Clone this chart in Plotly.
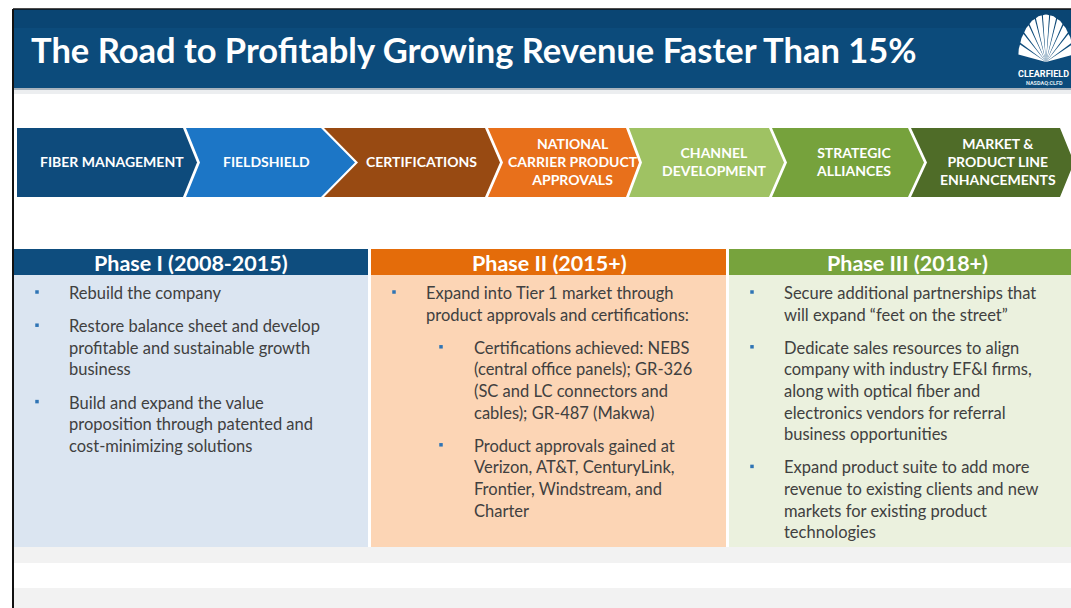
import math
import plotly.graph_objects as go

# ---------------- content (data) ----------------
TITLE = "The Road to Profitably Growing Revenue Faster Than 15%"

STEPS = [
    "FIBER MANAGEMENT",
    "FIELDSHIELD",
    "CERTIFICATIONS",
    "NATIONAL<br>CARRIER PRODUCT<br>APPROVALS",
    "CHANNEL<br>DEVELOPMENT",
    "STRATEGIC<br>ALLIANCES",
    "MARKET &amp;<br>PRODUCT LINE<br>ENHANCEMENTS",
]
STEP_COLORS = ["#0e4b7c", "#1c76c6", "#984a12", "#e8701b", "#9fc263", "#76a23c", "#4f6c28"]

PHASES = ["Phase I (2008-2015)", "Phase II (2015+)", "Phase III (2018+)"]
PHASE_HEAD_COLORS = ["#0e4d7e", "#e46c0a", "#77a33d"]
PHASE_BODY_COLORS = ["#dbe5f1", "#fcd5b5", "#ebf1de"]

# each bullet: (level, [wrapped lines])
PHASE1 = [
    (1, ["Rebuild the company"]),
    (1, ["Restore balance sheet and develop",
         "profitable and sustainable growth",
         "business"]),
    (1, ["Build and expand the value",
         "proposition through patented and",
         "cost-minimizing solutions"]),
]
PHASE2 = [
    (1, ["Expand into Tier 1 market through",
         "product approvals and certifications:"]),
    (2, ["Certifications achieved: NEBS",
         "(central office panels); GR-326",
         "(SC and LC connectors and",
         "cables); GR-487 (Makwa)"]),
    (2, ["Product approvals gained at",
         "Verizon, AT&amp;T, CenturyLink,",
         "Frontier, Windstream, and",
         "Charter"]),
]
PHASE3 = [
    (1, ["Secure additional partnerships that",
         "will expand \u201cfeet on the street\u201d"]),
    (1, ["Dedicate sales resources to align",
         "company with industry EF&amp;I firms,",
         "along with optical fiber and",
         "electronics vendors for referral",
         "business opportunities"]),
    (1, ["Expand product suite to add more",
         "revenue to existing clients and new",
         "markets for existing product",
         "technologies"]),
]
PHASE_BULLETS = [PHASE1, PHASE2, PHASE3]

LOGO_NAME = "CLEARFIELD"
LOGO_TICKER = "NASDAQ:CLFD"

# ---------------- layout constants ----------------
W, H = 1071, 608
FONT = "Lato"
TEXT_COLOR = "#404040"
BULLET_COLOR = "#2f74b5"

shapes = []
annotations = []


def rect(x0, y0, x1, y1, color):
    shapes.append(dict(type="rect", xref="x", yref="y", x0=x0, y0=y0, x1=x1, y1=y1,
                       fillcolor=color, line=dict(width=0), layer="below"))


# header bar
rect(13, 9, W, 88, "#0c4b7b")
rect(13, 9, W, 28, "#0a4573")
rect(13, 88, W, 90, "#a9b3bd")
rect(13, 90, W, 94, "#eceef0")
annotations.append(dict(x=29, y=49, xref="x", yref="y", text="<b>" + TITLE + "</b>",
                        showarrow=False, xanchor="left", yanchor="middle",
                        font=dict(family=FONT, size=34.5, color="white")))

# logo (shell fan)
cx, cy = 1046, 62
rx, ry = 28, 47
n = 11
span0, span1 = 8, 172
step = (span1 - span0) / n
for i in range(n):
    a0 = math.radians(span0 + i * step + 1.2)
    a1 = math.radians(span0 + (i + 1) * step - 1.2)
    am = (a0 + a1) / 2
    p0 = (cx + rx * math.cos(a0), cy - ry * math.sin(a0))
    p1 = (cx + rx * 1.03 * math.cos(am), cy - ry * 1.03 * math.sin(am))
    p2 = (cx + rx * math.cos(a1), cy - ry * math.sin(a1))
    path = f"M {cx},{cy} L {p0[0]:.1f},{p0[1]:.1f} Q {p1[0]:.1f},{p1[1]:.1f} {p2[0]:.1f},{p2[1]:.1f} Z"
    shapes.append(dict(type="path", xref="x", yref="y", path=path,
                       fillcolor="white", line=dict(width=0)))
annotations.append(dict(x=1043, y=74, xref="x", yref="y", text="<b>" + LOGO_NAME + "</b>",
                        showarrow=False, xanchor="center", yanchor="middle",
                        font=dict(family="Roboto", size=9, color="white")))
annotations.append(dict(x=1044, y=83, xref="x", yref="y", text="<b>" + LOGO_TICKER + "</b>",
                        showarrow=False, xanchor="center", yanchor="middle",
                        font=dict(family="Roboto", size=5.5, color="#dfe8f0")))

# frame lines
shapes.append(dict(type="line", xref="x", yref="y", x0=13, y0=9, x1=W, y1=9,
                   line=dict(color="#111111", width=1.5)))
shapes.append(dict(type="line", xref="x", yref="y", x0=13, y0=9, x1=13, y1=H,
                   line=dict(color="#111111", width=2)))

# chevrons
TOP, BOT = 128, 197
MID = (TOP + BOT) / 2
RIGHT_EDGES = [183, 321, 485, 626, 769, 908, 1060]
TIP_DEPTH = [14, 34, 15, 13, 15, 16, 14]
GAP = 3
LABEL_X = [112, 266, 421, 573, 714, 854, 998]
for i, (label, col) in enumerate(zip(STEPS, STEP_COLORS)):
    xr, dr = RIGHT_EDGES[i], TIP_DEPTH[i]
    if i == 0:
        xl, dl = 17, 0
    else:
        xl, dl = RIGHT_EDGES[i - 1] + GAP, TIP_DEPTH[i - 1]
    path = (f"M {xl},{TOP} L {xr},{TOP} L {xr + dr},{MID} L {xr},{BOT} "
            f"L {xl},{BOT} L {xl + dl},{MID} Z")
    shapes.append(dict(type="path", xref="x", yref="y", path=path,
                       fillcolor=col, line=dict(width=0)))
    annotations.append(dict(x=LABEL_X[i], y=MID - 1, xref="x", yref="y",
                            text="<b>" + label + "</b>", showarrow=False,
                            xanchor="center", yanchor="middle", align="center",
                            font=dict(family=FONT, size=14, color="white")))

# phase boxes
BOX_X = [(14, 368), (371, 726), (729, W)]
HEAD_CX = [191, 549, 907]
HEAD_TOP, HEAD_BOT, BODY_BOT = 249, 275, 547
rect(13, BODY_BOT, W, 563, "#f2f2f2")
rect(13, 588, W, H, "#f2f2f2")

LINE_H = 21.6
BULLET_GAP = 11.6
FIRST_Y = 293
bx, by = [], []
for k in range(3):
    x0, x1 = BOX_X[k]
    rect(x0, HEAD_TOP, x1, HEAD_BOT, PHASE_HEAD_COLORS[k])
    rect(x0, HEAD_BOT, x1, BODY_BOT, PHASE_BODY_COLORS[k])
    annotations.append(dict(x=HEAD_CX[k], y=(HEAD_TOP + HEAD_BOT) / 2 + 1,
                            xref="x", yref="y", text="<b>" + PHASES[k] + "</b>",
                            showarrow=False, xanchor="center", yanchor="middle",
                            font=dict(family=FONT, size=21.5, color="white")))
    y = FIRST_Y
    for j, (lvl, lines) in enumerate(PHASE_BULLETS[k]):
        if j > 0:
            y += BULLET_GAP
        bullet_x = x0 + 23 + (47 if lvl == 2 else 0)
        text_x = x0 + 53 + (48 if lvl == 2 else 0)
        bx.append(bullet_x)
        by.append(y - 1)
        for line in lines:
            annotations.append(dict(x=text_x, y=y, xref="x", yref="y", text=line,
                                    showarrow=False, xanchor="left", yanchor="middle",
                                    font=dict(family=FONT, size=16.5, color=TEXT_COLOR)))
            y += LINE_H

fig = go.Figure()
fig.add_trace(go.Scatter(x=bx, y=by, mode="markers", hoverinfo="skip",
                         marker=dict(symbol="square", size=3.5, color=BULLET_COLOR)))

fig.update_layout(
    width=W, height=H,
    margin=dict(l=0, r=0, t=0, b=0),
    paper_bgcolor="white", plot_bgcolor="white",
    showlegend=False,
    xaxis=dict(range=[0, W], visible=False, fixedrange=True),
    yaxis=dict(range=[H, 0], visible=False, fixedrange=True),
    shapes=shapes, annotations=annotations,
)
fig.write_html(
    "out.html",
    config={"displayModeBar": False},
    post_script="document.body.style.margin='0';document.body.style.overflow='hidden';",
)
